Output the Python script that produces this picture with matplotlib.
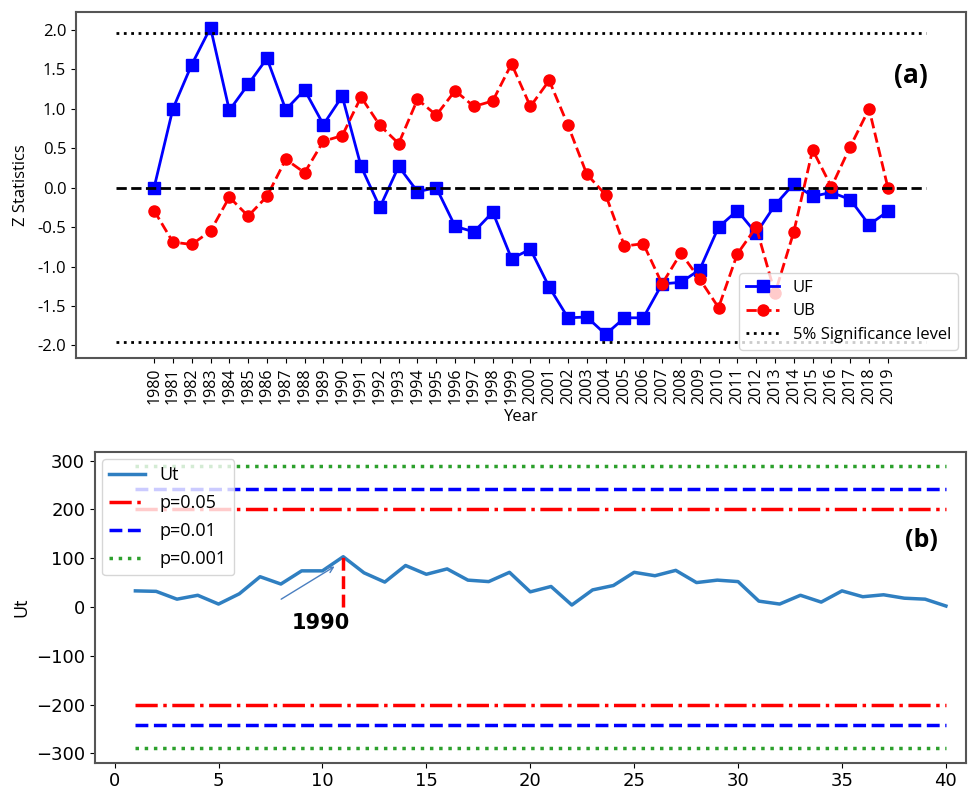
import numpy as np
import matplotlib
matplotlib.use("Agg")
import matplotlib.pyplot as plt

# Sequential Mann-Kendall statistics, 1980-2019
years = list(range(1980, 2020))
uf = [0.00, 1.00, 1.56, 2.03, 0.98, 1.31, 1.64, 0.99, 1.24, 0.80,
      1.16, 0.27, -0.25, 0.27, -0.05, 0.00, -0.49, -0.56, -0.31, -0.90,
      -0.78, -1.26, -1.65, -1.64, -1.86, -1.65, -1.65, -1.22, -1.20, -1.04,
      -0.50, -0.29, -0.58, -0.22, 0.05, -0.11, -0.06, -0.15, -0.47, -0.30]
ub = [-0.29, -0.69, -0.72, -0.55, -0.12, -0.36, -0.11, 0.36, 0.19, 0.59,
      0.66, 1.15, 0.79, 0.56, 1.12, 0.92, 1.23, 1.03, 1.10, 1.57,
      1.03, 1.36, 0.79, 0.17, -0.09, -0.74, -0.71, -1.22, -0.83, -1.16,
      -1.52, -0.84, -0.50, -1.34, -0.56, 0.48, 0.01, 0.52, 1.00, 0.00]
z_crit = 1.96

# Pettitt test statistic
t = list(range(1, 41))
ut = [33, 32, 16, 24, 6, 27, 62, 47, 74, 74,
      103, 70, 51, 85, 67, 78, 55, 52, 71, 31,
      42, 4, 35, 44, 71, 64, 75, 50, 55, 52,
      12, 6, 24, 10, 33, 21, 25, 18, 16, 2]
k_levels = [200, 242, 289]
k_labels = ["p=0.05", "p=0.01", "p=0.001"]
k_styles = [("red", "-."), ("blue", "--"), ("tab:green", ":")]
change_idx = 11

fig = plt.figure(figsize=(9.68, 7.92), dpi=100)

# ---- (a) UF / UB ----
ax1 = fig.add_axes([0.0785, 0.548, 0.9194, 0.437])
ax1.plot(years, uf, color="blue", marker="s", markersize=8, lw=2, label="UF")
ax1.plot(years, ub, color="red", marker="o", markersize=8, lw=2, ls="--", label="UB")
x0, x1 = years[0] - 2, years[-1] + 2
ax1.plot([x0, x1], [z_crit, z_crit], color="black", ls=":", lw=2,
         label="5% Significance level")
ax1.plot([x0, x1], [-z_crit, -z_crit], color="black", ls=":", lw=2)
ax1.plot([x0, x1], [0, 0], color="black", ls="--", lw=2)
ax1.set_xticks(years)
ax1.set_xticklabels([str(y) for y in years], rotation=90, fontsize=11.5,
                    family="Open Sans")
ax1.set_yticks(np.arange(-2.0, 2.01, 0.5))
ax1.set_yticklabels(["%.1f" % v for v in np.arange(-2.0, 2.01, 0.5)],
                    fontsize=12, family="Open Sans")
ax1.tick_params(axis="x", pad=3)
ax1.set_xlabel("Year", fontsize=12, family="Open Sans", labelpad=4)
ax1.set_ylabel("Z Statistics", fontsize=12, family="Open Sans", labelpad=6)
ax1.legend(loc="lower right", prop={"family": "Open Sans", "size": 12},
           labelspacing=0.45, borderaxespad=0.5)
ax1.text(0.957, 0.815, "(a)", transform=ax1.transAxes, fontsize=19,
         fontweight="bold", ha="right", va="center", family="Open Sans")
for s in ax1.spines.values():
    s.set_edgecolor("#555555")
    s.set_linewidth(1.5)

# ---- (b) Pettitt Ut ----
ax2 = fig.add_axes([0.098, 0.037, 0.900, 0.3926])
ax2.plot(t, ut, color="#2f7fc1", lw=2.5, label="Ut")
for lev, lab, (c, ls) in zip(k_levels, k_labels, k_styles):
    ax2.plot([t[0], t[-1]], [lev, lev], color=c, ls=ls, lw=2.5, label=lab)
    ax2.plot([t[0], t[-1]], [-lev, -lev], color=c, ls=ls, lw=2.5)
ax2.plot([change_idx, change_idx], [0, ut[change_idx - 1]], color="red",
         ls="--", lw=2.5)
ax2.annotate("", xy=(10.7, 86), xytext=(7.9, 13),
             arrowprops=dict(arrowstyle="->", color="#4a7fc0", lw=1))
ax2.text(9.9, -32, "1990", fontsize=15, fontweight="bold", ha="center",
         va="center")
ax2.text(38.8, 137, "(b)", fontsize=18, fontweight="bold", ha="center",
         va="center", family="Open Sans")
ax2.set_xlim(-0.95, 40.97)
ax2.set_ylim(-319, 318)
ax2.set_xticks(range(0, 41, 5))
ax2.set_yticks(range(-300, 301, 100))
ax2.tick_params(labelsize=13)
ax2.set_ylabel("Ut", fontsize=13, family="Open Sans")
ax2.legend(loc="upper left", prop={"family": "Open Sans", "size": 13},
           labelspacing=0.55, borderaxespad=0.4)
for s in ax2.spines.values():
    s.set_edgecolor("#555555")
    s.set_linewidth(1.5)

fig.savefig("out.png", dpi=100)
